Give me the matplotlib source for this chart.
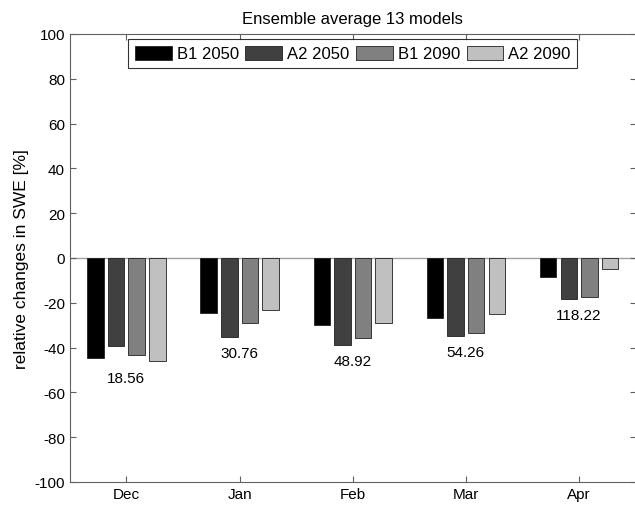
import numpy as np
import matplotlib
matplotlib.use("Agg")
import matplotlib.pyplot as plt

months = ["Dec", "Jan", "Feb", "Mar", "Apr"]
scenarios = ["B1 2050", "A2 2050", "B1 2090", "A2 2090"]
b1_2050 = [-44.6, -24.4, -29.9, -26.9, -8.5]
a2_2050 = [-39.4, -35.1, -38.8, -34.8, -18.2]
b1_2090 = [-43.2, -29.2, -35.9, -33.6, -17.3]
a2_2090 = [-46.1, -23.4, -29.2, -25.1, -4.8]
labels = ["18.56", "30.76", "48.92", "54.26", "118.22"]

colors = ["#000000", "#404040", "#808080", "#c0c0c0"]

plt.rcParams['font.family'] = ['Liberation Sans', 'DejaVu Sans']
plt.rcParams['font.size'] = 11
plt.rcParams['axes.unicode_minus'] = False

fig = plt.figure(figsize=(6.35, 5.06), dpi=100)
ax = fig.add_axes([0.110, 0.0455, 0.891, 0.8855])

series = [b1_2050, a2_2050, b1_2090, a2_2090]
x = np.arange(1, len(months) + 1)
slot = 4 / 5.5 / 4
for i, vals in enumerate(series):
    ax.bar(x + (i - 1.5) * slot, vals, width=0.8 * slot, color=colors[i],
           edgecolor="#202020", linewidth=0.6, label=scenarios[i], zorder=2)

ax.axhline(0, color="#a0a0a0", linewidth=1.0, zorder=1)

mins = np.min(np.array(series), axis=0)
for xi, m, lab in zip(x, mins, labels):
    ax.text(xi, m - 7.4, lab, ha="center", va="center", fontsize=11)

ax.set_xlim(0.5, 5.5)
ax.set_ylim(-100, 100)
ax.set_xticks(x)
ax.set_xticklabels(months)
ax.set_yticks(np.arange(-100, 101, 20))
ax.tick_params(direction="in", top=True, right=True, length=4, color="#606060",
               labelsize=11)
for s in ax.spines.values():
    s.set_color("#606060")
    s.set_linewidth(0.8)
ax.set_ylabel("relative changes in SWE [%]", fontsize=12.5, labelpad=4)
ax.set_title("Ensemble average 13 models", fontsize=12, pad=8)

leg = ax.legend(loc="upper center", ncol=4, frameon=True, fancybox=False,
                edgecolor="black", handlelength=2.2, handleheight=0.95,
                columnspacing=0.4, handletextpad=0.3, borderaxespad=0.3,
                borderpad=0.4, fontsize=12)
leg.get_frame().set_linewidth(0.8)

fig.savefig("out.png", dpi=100)
